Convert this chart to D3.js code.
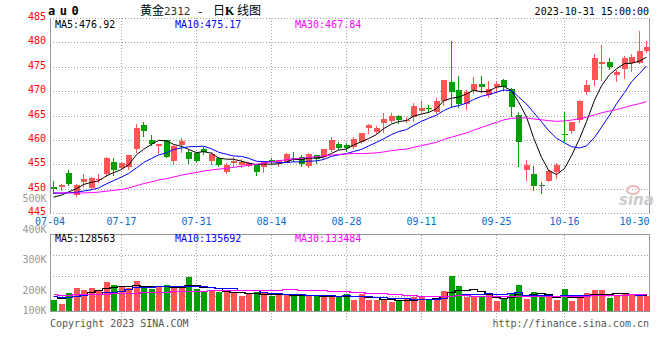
<!DOCTYPE html>
<html><head><meta charset="utf-8">
<script src="https://cdn.jsdelivr.net/npm/d3@7"></script>
<style>
body{margin:0;background:#fff;}
svg{display:block;}
text{font-family:"DejaVu Sans Mono",monospace;font-size:10px;}
</style></head><body>
<svg id="c" width="660" height="360"></svg>
<script>
// ---------------- data ----------------
const dates = ["07-04","07-05","07-06","07-07","07-10","07-11","07-12","07-13","07-14","07-17","07-18","07-19","07-20","07-21","07-24","07-25","07-26","07-27","07-28","07-31",
"08-01","08-02","08-03","08-04","08-07","08-08","08-09","08-10","08-11","08-14","08-15","08-16","08-17","08-18","08-21","08-22","08-23","08-24","08-25","08-28","08-29","08-30","08-31",
"09-01","09-04","09-05","09-06","09-07","09-08","09-11","09-12","09-13","09-14","09-15","09-18","09-19","09-20","09-21","09-22","09-25","09-26","09-27","09-28",
"10-09","10-10","10-11","10-12","10-13","10-16","10-17","10-18","10-19","10-20","10-23","10-24","10-25","10-26","10-27","10-30","10-31"];
const opens = [450.4,450.4,453.2,448.7,451.5,450.1,451.9,453.1,455.4,454.2,454.4,458.2,463.0,460.0,458.7,460.0,455.8,459.0,457.6,457.3,
458.2,455.8,456.3,453.5,455.2,454.9,454.7,454.9,454.4,456.0,455.6,455.6,456.3,456.5,454.6,456.9,456.5,458.0,459.2,459.0,458.5,459.5,462.4,
461.7,463.4,463.8,464.9,463.8,464.7,466.0,466.6,465.8,467.9,471.8,470.2,467.4,470.0,471.5,469.2,470.8,472.2,470.5,465.1,
453.9,453.1,450.7,451.6,453.5,461.3,461.9,464.0,469.9,472.3,475.6,475.9,473.3,474.5,475.7,475.7,478.3];
const highs = [451.7,451.0,453.9,451.0,453.1,452.5,453.1,456.6,456.4,455.4,456.9,463.2,463.7,461.0,459.2,460.0,459.0,460.5,458.0,457.6,
458.5,457.6,456.6,455.2,456.6,456.1,455.4,454.9,455.8,456.4,455.9,457.3,457.5,456.9,457.4,456.9,458.1,460.6,459.5,459.3,460.7,461.5,463.3,
462.9,465.5,465.5,465.1,464.7,467.5,468.0,467.2,468.7,472.3,480.3,473.1,470.2,473.0,473.1,472.0,472.0,472.4,470.6,465.8,
455.9,454.6,451.5,453.9,455.2,465.8,463.6,468.2,472.3,477.6,479.5,476.7,474.3,477.1,477.6,482.3,480.3];
const lows = [449.1,449.7,450.8,448.6,450.5,449.9,451.4,452.6,452.9,454.0,454.0,457.6,460.8,459.0,457.4,456.5,455.1,457.6,455.3,455.5,
457.1,455.1,454.6,453.3,454.6,454.4,454.6,452.9,453.5,455.2,454.6,455.4,455.8,454.7,454.4,455.2,456.1,457.8,458.1,457.8,458.3,459.3,461.5,
461.5,461.7,463.6,463.4,463.6,463.8,465.8,465.8,465.5,467.2,466.8,466.7,466.4,469.6,469.9,468.9,469.9,470.2,464.9,454.7,
451.8,449.8,449.2,451.6,452.3,459.8,461.5,463.6,469.4,471.3,472.3,474.5,472.0,472.6,474.2,475.7,478.1];
const closes = [449.9,450.8,451.1,450.7,452.0,452.2,452.1,456.4,453.9,455.2,456.9,462.5,461.9,459.2,459.1,456.6,458.8,459.8,456.1,455.8,
457.6,457.2,454.9,454.9,455.7,455.6,455.2,453.5,455.4,455.6,455.9,457.2,456.2,455.0,457.1,456.1,458.1,460.0,458.3,458.3,460.2,461.5,463.1,
462.5,464.3,464.9,464.1,464.1,467.0,466.5,466.5,467.9,472.2,469.8,467.4,469.9,471.5,470.8,470.4,471.5,470.9,466.8,459.5,
454.9,450.5,450.6,453.7,454.9,461.1,463.6,468.0,471.3,476.7,475.9,475.0,474.0,476.7,476.9,478.2,479.0];
const volumes = [89000,57000,146000,186000,170000,186000,164000,235000,211000,194000,181000,243000,189000,178000,194000,211000,189000,184000,278000,178000,
151000,162000,156000,164000,146000,116000,140000,156000,140000,116000,130000,130000,124000,138000,116000,116000,116000,122000,122000,138000,89000,138000,89000,
89000,89000,73000,75000,97000,108000,122000,89000,95000,164000,286000,203000,108000,108000,108000,143000,81000,97000,143000,211000,
97000,151000,108000,116000,89000,178000,81000,108000,143000,170000,170000,103000,124000,143000,124000,135000,122000];
// the 29 sessions before 07-04 (not drawn), estimated from where the moving averages start
const priorCloses = [451.2,452.0,451.5,450.8,450.3,449.6,450.1,449.4,448.9,448.2,448.6,449.0,448.4,447.9,448.3,448.8,448.1,447.6,448.0,448.5,
450.6,450.2,449.8,449.5,449.4,448.6,447.9,447.5,447.6];
const priorVolumes = [150000,135000,160000,145000,130000,142000,155000,138000,128000,147000,133000,141000,152000,126000,139000,144000,131000,148000,136000,150000,
118000,130000,115000,127000,120000,125000,118000,130000,118000];
const xTickDates = ["07-04","07-17","07-31","08-14","08-28","09-11","09-25","10-16","10-30"];
const priceTicks = [445,450,455,460,465,470,475,480,485];
const volTickValues = [500000,400000,300000,200000,100000];
const volTickLabels = ["500K","400K","300K","200K","100K"];
const priceMALabels = ["MA5:476.92","MA10:475.17","MA30:467.84"];
const volMALabels = ["MA5:128563","MA10:135692","MA30:133484"];
const maPeriods = [5,10,30];
const maColors = ["#000000","#0000ff","#ff00ff"];

// ---------------- layout ----------------
const L = 50, R = 649.5;
const UP = "#ff5555", DOWN = "#00a000", GRID = "#a0a0a0", BORDER = "#999999";
const svg = d3.select("#c");

const x = d3.scaleBand().domain(dates).range([49.5, 649.8]);
const cx = d => Math.round(x(d) + x.bandwidth() / 2);
const yP = d3.scaleLinear().domain([445, 485]).range([213.3, 17.9]);
const yV = d3.scaleLinear().domain([0, 620000]).range([310.7, 234.5]);

function movingAvg(series, prior, n) {
  const all = prior.concat(series);
  return series.map((_, i) => d3.mean(all.slice(i + prior.length - n + 1, i + prior.length + 1)));
}

const vTop = 234.5, vBot = 311;

// ---------------- grids ----------------
const gGrid = svg.append("g").attr("stroke", GRID).attr("stroke-dasharray", "1,2").attr("shape-rendering", "crispEdges");
priceTicks.forEach(v => {
  const yy = Math.round(yP(v)) + 0.5;
  gGrid.append("line").attr("x1", L).attr("x2", R).attr("y1", yy).attr("y2", yy);
});
[1, 2, 3].forEach(k => {
  const yy = Math.round(vTop + k * 20.5) + 0.5;
  gGrid.append("line").attr("x1", L).attr("x2", R).attr("y1", yy).attr("y2", yy);
});
xTickDates.slice(1, -1).forEach(d => {
  const xx = cx(d) + 0.5;
  gGrid.append("line").attr("x1", xx).attr("x2", xx).attr("y1", 18).attr("y2", 213);
  gGrid.append("line").attr("x1", xx).attr("x2", xx).attr("y1", vTop).attr("y2", 320);
});
// borders
const gB = svg.append("g").attr("stroke", BORDER).attr("shape-rendering", "crispEdges").attr("fill", "none");
gB.append("line").attr("x1", 50.5).attr("x2", 50.5).attr("y1", 18).attr("y2", 214);
gB.append("line").attr("x1", R).attr("x2", R).attr("y1", 18).attr("y2", 214);
gB.append("rect").attr("x", 50.5).attr("y", vTop).attr("width", R - 50.5).attr("height", vBot - vTop);

// ---------------- watermark ----------------
svg.append("ellipse").attr("cx", 633).attr("cy", 190).attr("rx", 6).attr("ry", 4)
  .attr("fill", "none").attr("stroke", "#efb8b8").attr("stroke-width", 2);
svg.append("text").attr("x", 619).attr("y", 205).text("sina")
  .style("font-family", "DejaVu Sans").style("font-size", "15px").style("font-style", "italic").style("font-weight", "bold")
  .attr("fill", "#cccccc");

// ---------------- candles ----------------
const candles = dates.map((d, i) => ({d, o: opens[i], h: highs[i], l: lows[i], c: closes[i], v: volumes[i]}));
const gC = svg.append("g").attr("shape-rendering", "crispEdges");
gC.selectAll("line.w").data(candles).join("line")
  .attr("x1", d => cx(d.d) + 0.5).attr("x2", d => cx(d.d) + 0.5)
  .attr("y1", d => Math.round(yP(d.h))).attr("y2", d => Math.round(yP(d.l)) + 1)
  .attr("stroke", d => d.c >= d.o ? UP : DOWN);
gC.selectAll("rect.b").data(candles).join("rect")
  .attr("x", d => cx(d.d) - 2).attr("width", 6)
  .attr("y", d => Math.round(yP(Math.max(d.o, d.c))))
  .attr("height", d => Math.max(1, Math.round(yP(Math.min(d.o, d.c))) - Math.round(yP(Math.max(d.o, d.c)))))
  .attr("fill", d => d.c >= d.o ? UP : DOWN);

// price moving averages
maPeriods.forEach((n, k) => {
  const m = movingAvg(closes, priorCloses, n);
  const line = d3.line().x((v, i) => cx(dates[i]) + 0.5).y(v => yP(v));
  svg.append("path").datum(m).attr("d", line).attr("fill", "none").attr("stroke", maColors[k]).attr("stroke-width", 1);
});

// ---------------- volume ----------------
const gV = svg.append("g").attr("shape-rendering", "crispEdges");
gV.selectAll("rect").data(candles).join("rect")
  .attr("x", d => cx(d.d) - 2).attr("width", 6)
  .attr("y", d => Math.round(yV(d.v)))
  .attr("height", d => Math.round(yV(0)) - Math.round(yV(d.v)))
  .attr("fill", d => d.c >= d.o ? UP : DOWN);
maPeriods.forEach((n, k) => {
  const m = movingAvg(volumes, priorVolumes, n);
  const line = d3.line().curve(d3.curveStep).x((v, i) => cx(dates[i]) + 0.5).y(v => Math.round(yV(v)) + 0.5);
  svg.append("path").datum(m).attr("d", line).attr("fill", "none").attr("stroke", maColors[k])
    .attr("stroke-width", 1.4).attr("shape-rendering", "crispEdges");
});

// ---------------- axes & texts ----------------
const axP = d3.axisLeft(yP).tickValues(priceTicks).tickSize(0).tickPadding(4).tickFormat(d3.format("d"));
const gAP = svg.append("g").attr("transform", `translate(${L},0)`).call(axP);
gAP.select(".domain").remove();
gAP.selectAll("text").attr("fill", "#ff0000").attr("dy", "0.15em")
  .style("font-family", "DejaVu Sans Mono").style("font-size", "10px");

const axX = d3.axisBottom(x).tickValues(xTickDates).tickSize(0).tickPadding(0);
const gAX = svg.append("g").attr("transform", `translate(0,215)`).call(axX);
gAX.select(".domain").remove();
gAX.selectAll(".tick").attr("transform", (d, i) => {
  let xx = cx(d) + 0.5;
  if (i === 0) xx = L;
  if (i === xTickDates.length - 1) xx = Math.min(xx, R - 15);
  return `translate(${xx},0)`;
});
gAX.selectAll("text").attr("fill", "#0a6ccf").attr("dy", "0.75em").attr("y", 2)
  .style("font-family", "DejaVu Sans Mono").style("font-size", "10px");

// volume labels (placed like the reference: 30px apart, last one held at the panel bottom)
volTickValues.forEach((v, i) => {
  const yy = Math.min(202 + (500000 - v) / 100000 * 30.5, 314);
  svg.append("text").attr("x", 46.5).attr("y", yy).attr("text-anchor", "end").attr("fill", "#999999").text(volTickLabels[i]);
});

// MA legends
[55, 175, 295].forEach((xx, k) => {
  svg.append("text").attr("x", xx).attr("y", 27.5).attr("fill", maColors[k]).text(priceMALabels[k]);
  svg.append("text").attr("x", xx).attr("y", 242).attr("fill", maColors[k]).text(volMALabels[k]);
});

// header
svg.append("text").attr("x", 48).attr("y", 15).text("au0")
  .style("font-size", "12px").style("font-weight", "bold").style("letter-spacing", "4.5px");
const cjk = "'Noto Sans CJK SC', sans-serif";
svg.append("text").attr("x", 140).attr("y", 14.5).text("黄金").style("font-family", cjk).style("font-size", "12px");
svg.append("text").attr("x", 164).attr("y", 14.5).text("2312").attr("fill", "#333").style("font-size", "11px");
svg.append("text").attr("x", 197).attr("y", 14.5).text("-").style("font-size", "11px");
svg.append("text").attr("x", 213).attr("y", 14.5).text("日").style("font-family", cjk).style("font-size", "12px");
svg.append("text").attr("x", 225).attr("y", 14.5).text("K").style("font-family", "'Liberation Serif', serif").style("font-size", "12px").style("font-weight", "bold");
svg.append("text").attr("x", 237).attr("y", 14.5).text("线图").style("font-family", cjk).style("font-size", "12px");
svg.append("text").attr("x", 649).attr("y", 15).attr("text-anchor", "end").text("2023-10-31 15:00:00");

// footer
svg.append("text").attr("x", 50).attr("y", 327).attr("fill", "#555").text("Copyright 2023 SINA.COM");
svg.append("text").attr("x", 649).attr("y", 327).attr("text-anchor", "end").attr("fill", "#555").text("http://finance.sina.com.cn");
</script>
</body></html>
